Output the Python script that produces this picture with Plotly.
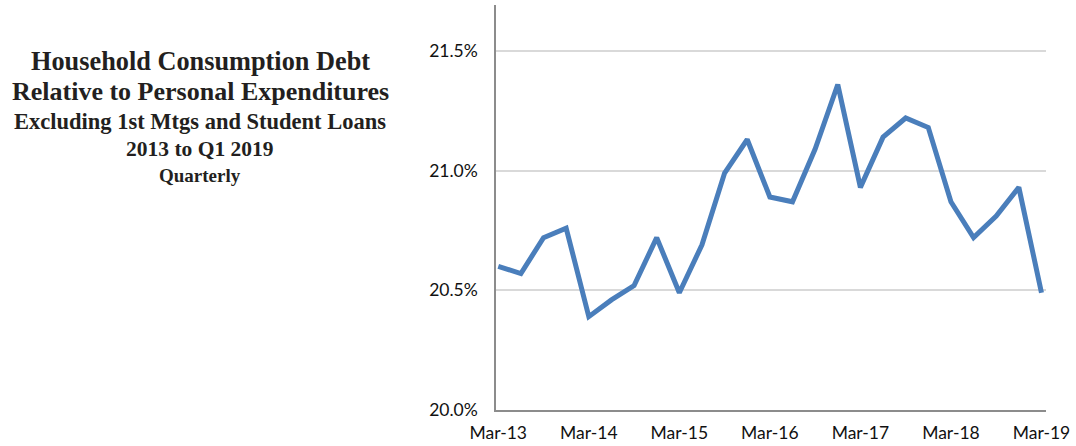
import plotly.graph_objects as go

# Quarterly observations, Mar-13 through Mar-19
quarters = [
    "Mar-13", "Jun-13", "Sep-13", "Dec-13",
    "Mar-14", "Jun-14", "Sep-14", "Dec-14",
    "Mar-15", "Jun-15", "Sep-15", "Dec-15",
    "Mar-16", "Jun-16", "Sep-16", "Dec-16",
    "Mar-17", "Jun-17", "Sep-17", "Dec-17",
    "Mar-18", "Jun-18", "Sep-18", "Dec-18",
    "Mar-19",
]
debt_ratio = [
    20.60, 20.57, 20.72, 20.76,
    20.39, 20.46, 20.52, 20.72,
    20.49, 20.69, 20.99, 21.13,
    20.89, 20.87, 21.09, 21.36,
    20.93, 21.14, 21.22, 21.18,
    20.87, 20.72, 20.81, 20.93,
    20.49,
]
x_tick_labels = ["Mar-13", "Mar-14", "Mar-15", "Mar-16", "Mar-17", "Mar-18", "Mar-19"]
y_tick_values = [20.0, 20.5, 21.0, 21.5]
y_tick_labels = ["20.0%", "20.5%", "21.0%", "21.5%"]

title_lines = [
    ("Household Consumption Debt", 26.3, 62),
    ("Relative to Personal Expenditures", 26, 92),
    ("Excluding 1st Mtgs and Student Loans", 22.5, 121),
    ("2013 to Q1 2019", 21.5, 149),
    ("Quarterly", 19, 175),
]

fig = go.Figure()
fig.add_trace(go.Scatter(
    x=quarters,
    y=debt_ratio,
    mode="lines",
    line=dict(color="#4a7ebb", width=5),
    hoverinfo="x+y",
))

W, H = 1076, 446
for text, size, ypix in title_lines:
    fig.add_annotation(
        text=f"<b>{text}</b>",
        xref="paper", yref="paper",
        x=(200 - 496) / (1046 - 496),
        y=1 - (ypix - 5) / (410 - 5),
        xanchor="center", yanchor="middle",
        showarrow=False,
        font=dict(family="Liberation Serif, Times New Roman, serif", size=size, color="#231f20"),
    )

fig.update_layout(
    width=W, height=H,
    margin=dict(l=496, r=30, t=5, b=36),
    paper_bgcolor="white",
    plot_bgcolor="white",
    showlegend=False,
    font=dict(family="Lato, Open Sans, sans-serif", size=17, color="#111111"),
)
fig.update_xaxes(
    type="category",
    range=[-0.1, 24.2],
    tickmode="array",
    tickvals=x_tick_labels,
    ticktext=x_tick_labels,
    showgrid=False,
    showline=True,
    linecolor="#8c8c8c",
    linewidth=1.5,
    ticks="",
    ticklabelstandoff=6,
    tickfont=dict(size=17.5),
    automargin=False,
)
fig.update_yaxes(
    range=[20.0, 21.692],
    tickmode="array",
    tickvals=y_tick_values,
    ticktext=y_tick_labels,
    showgrid=True,
    gridcolor="#d9d9d9",
    gridwidth=1.5,
    showline=True,
    linecolor="#8c8c8c",
    linewidth=1.5,
    zeroline=False,
    ticks="",
    ticklabelstandoff=13,
    tickfont=dict(size=17.5),
    automargin=False,
)

fig.write_html("out.html")
